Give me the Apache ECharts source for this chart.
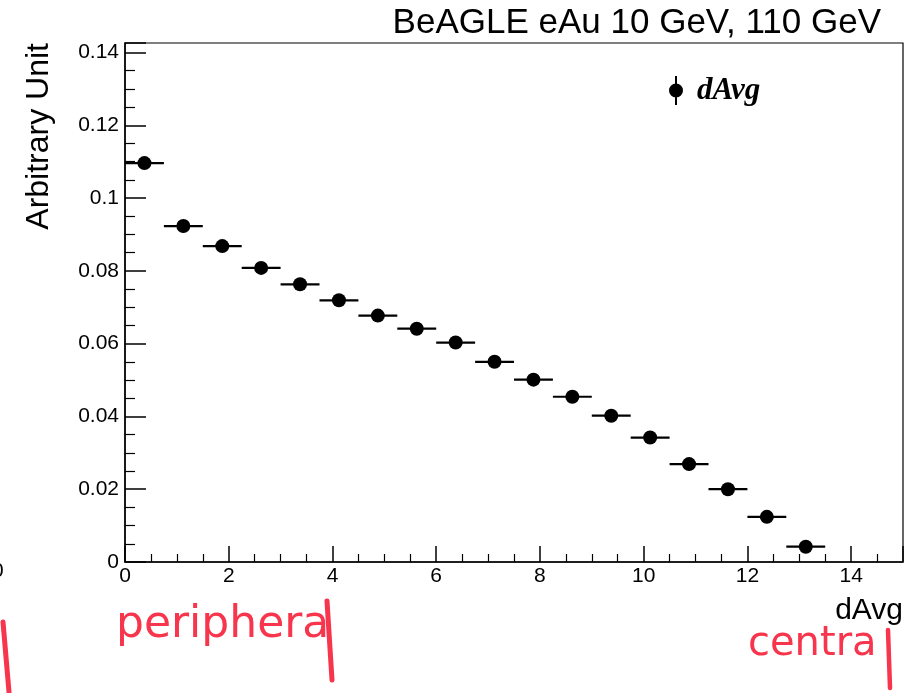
<!DOCTYPE html>
<html>
<head>
<meta charset="utf-8">
<script src="https://cdn.jsdelivr.net/npm/echarts@6/dist/echarts.min.js"></script>
<style>
  html, body { margin: 0; padding: 0; background: #fff; }
  #chart { width: 906px; height: 693px; }
</style>
</head>
<body>
<div id="chart"></div>
<script>
// bin edges of the histogram (width 0.75)
const binLow = [0, 0.75, 1.5, 2.25, 3, 3.75, 4.5, 5.25, 6, 6.75, 7.5, 8.25, 9, 9.75, 10.5, 11.25, 12, 12.75];
const binHigh = [0.75, 1.5, 2.25, 3, 3.75, 4.5, 5.25, 6, 6.75, 7.5, 8.25, 9, 9.75, 10.5, 11.25, 12, 12.75, 13.5];
const dAvgValues = [0.1096, 0.0923, 0.0868, 0.0808, 0.0763, 0.0719, 0.0677, 0.0641, 0.0603,
  0.0550, 0.0501, 0.0454, 0.0402, 0.0342, 0.0269, 0.0200, 0.0124, 0.0042];
const xTicks = [0, 2, 4, 6, 8, 10, 12, 14];
const yTicks = [0, 0.02, 0.04, 0.06, 0.08, 0.1, 0.12, 0.14];

const points = dAvgValues.map((v, i) => [(binLow[i] + binHigh[i]) / 2, v]);
const bars = dAvgValues.map((v, i) => [binLow[i], binHigh[i], v]);

const red = '#f7354c';
const chart = echarts.init(document.getElementById('chart'));
const option = {
  backgroundColor: '#fff',
  animation: false,
  color: ['#000'],
  title: {
    text: 'BeAGLE eAu 10 GeV, 110 GeV',
    right: 20,
    top: 1,
    textStyle: { fontFamily: 'Liberation Sans', fontWeight: 'normal', fontSize: 35, color: '#000' }
  },
  legend: {
    left: 664,
    top: 70,
    itemWidth: 14,
    itemHeight: 29,
    itemGap: 8,
    itemStyle: { color: '#000', opacity: 1 },
    data: [{
      name: 'dAvg',
      icon: 'path://M6 0h2v29h-2z M0 14.5a7 7 0 1 1 14 0a7 7 0 1 1 -14 0z'
    }],
    textStyle: { fontFamily: 'Liberation Serif', fontStyle: 'italic', fontWeight: 'bold', fontSize: 31, color: '#000', padding: [3, 0, 0, 9] }
  },
  grid: {
    left: 125, top: 43, right: 3, bottom: 131,
    show: true, borderColor: '#000', borderWidth: 1.2, backgroundColor: 'transparent'
  },
  xAxis: {
    type: 'value',
    min: 0, max: 15, interval: 2,
    name: 'dAvg',
    nameLocation: 'end',
    nameGap: 0,
    nameTextStyle: { fontFamily: 'Liberation Sans', fontSize: 30, color: '#000', align: 'right', verticalAlign: 'top', padding: [34, 0, 0, 0] },
    axisLine: { show: true, onZero: false, lineStyle: { color: '#000', width: 1.5 } },
    axisTick: { show: true, inside: true, length: 16, lineStyle: { color: '#000', width: 1.5 } },
    minorTick: { show: true, splitNumber: 4, length: 8, lineStyle: { color: '#000', width: 1.2 } },
    splitLine: { show: false },
    axisLabel: {
      fontFamily: 'Liberation Sans', fontSize: 21, color: '#000', margin: 4,
      formatter: v => xTicks.includes(v) ? String(v) : ''
    }
  },
  yAxis: {
    type: 'value',
    min: 0, max: 0.1426, interval: 0.02,
    name: 'Arbitrary Unit',
    nameLocation: 'end',
    nameRotate: 90,
    nameGap: 0,
    nameTextStyle: { fontFamily: 'Liberation Sans', fontSize: 32, color: '#000', align: 'right', verticalAlign: 'bottom', padding: [0, 0, 70, 0] },
    axisLine: { show: true, lineStyle: { color: '#000', width: 1.5 } },
    axisTick: { show: true, inside: true, length: 21, lineStyle: { color: '#000', width: 1.5 } },
    minorTick: { show: true, splitNumber: 4, length: 10, lineStyle: { color: '#000', width: 1.2 } },
    splitLine: { show: false },
    axisLabel: {
      fontFamily: 'Liberation Sans', fontSize: 21, color: '#000', margin: 6,
      formatter: v => {
        const t = yTicks.find(k => Math.abs(k - v) < 1e-6);
        return t === undefined ? '' : String(t);
      }
    }
  },
  series: [
    {
      name: 'dAvg',
      type: 'custom',
      data: bars,
      renderItem: (params, api) => {
        const a = api.coord([api.value(0), api.value(2)]);
        const b = api.coord([api.value(1), api.value(2)]);
        return {
          type: 'line',
          shape: { x1: a[0], y1: a[1], x2: b[0], y2: b[1] },
          style: { stroke: '#000', lineWidth: 2.2 }
        };
      },
      encode: { x: [0, 1], y: 2 },
      itemStyle: { color: '#000' },
      z: 2
    },
    {
      name: 'dAvg',
      type: 'scatter',
      data: points,
      symbol: 'circle',
      symbolSize: 14,
      itemStyle: { color: '#000', opacity: 1 },
      z: 3
    }
  ],
  graphic: [
    { type: 'text', left: -8, top: 561, style: { text: '0', fontFamily: 'Liberation Sans', fontSize: 21, fill: '#000' } },
    { type: 'line', shape: { x1: 3, y1: 622, x2: 9, y2: 692 }, style: { stroke: red, lineWidth: 5, lineCap: 'round' } },
    { type: 'text', left: 116, top: 604, style: { text: 'periphera', fontFamily: 'DejaVu Sans', fontSize: 44, fill: red, letterSpacing: 3 } },
    { type: 'line', shape: { x1: 327, y1: 601, x2: 332, y2: 680 }, style: { stroke: red, lineWidth: 5, lineCap: 'round' } },
    { type: 'text', left: 748, top: 625, style: { text: 'centra', fontFamily: 'DejaVu Sans', fontSize: 40, fill: red, letterSpacing: 1 } },
    { type: 'line', shape: { x1: 888, y1: 630, x2: 890, y2: 688 }, style: { stroke: red, lineWidth: 4.5, lineCap: 'round' } }
  ]
};
chart.setOption(option);
</script>
</body>
</html>
